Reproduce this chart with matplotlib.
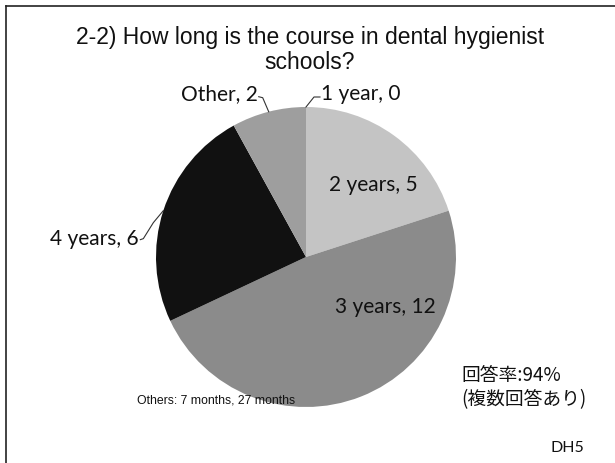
import numpy as np
import matplotlib
matplotlib.use('Agg')
import matplotlib.pyplot as plt
from matplotlib.lines import Line2D

# Data
labels = ['1 year', '2 years', '3 years', '4 years', 'Other']
values = [0, 5, 12, 6, 2]
colors = ['#d0d0d0', '#c4c4c4', '#8b8b8b', '#111111', '#9e9e9e']
title = '2-2) How long is the course in dental hygienist\nschools?'
note = 'Others: 7 months, 27 months'
rate = '回答率:94%\n(複数回答あり)'
code = 'DH5'

W, H = 615, 464
fig = plt.figure(figsize=(W / 100, H / 100), dpi=100)
ax = fig.add_axes([0, 0, 1, 1])

cx, cy, r = 306, H - 258, 150
wedges, _ = ax.pie(values, colors=colors, startangle=90, counterclock=False,
                   center=(cx, cy), radius=r, frame=True,
                   wedgeprops=dict(linewidth=0))
ax.set_xlim(0, W)
ax.set_ylim(0, H)
ax.set_aspect('equal')
ax.axis('off')

lab_font = dict(family=['Lato', 'DejaVu Sans'], fontsize=15, color='#111111')
line_kw = dict(color='#333333', lw=0.8)


def edge_point(w, frac=1.0):
    ang = np.deg2rad((w.theta1 + w.theta2) / 2)
    return cx + r * frac * np.cos(ang), cy + r * frac * np.sin(ang)


txt = [f'{l}, {v}' for l, v in zip(labels, values)]

# labels inside the slices
x, y = edge_point(wedges[1], 0.5)
ax.text(x + 23, y + 12, txt[1], ha='center', va='center', **lab_font)
x, y = edge_point(wedges[2], 0.5)
ax.text(x + 52, y + 21, txt[2], ha='center', va='center', **lab_font)

# outside labels with leader lines
x, y = edge_point(wedges[0])
ax.plot([x, x + 8, x + 14], [y, y + 10, y + 10], **line_kw)
ax.text(x + 15, y + 14, txt[0], ha='left', va='center', **lab_font)

x, y = edge_point(wedges[4])
ax.plot([x, x - 6, x - 10], [y, y + 14, y + 15], **line_kw)
ax.text(x - 11, y + 19, txt[4], ha='right', va='center', **lab_font)

x, y = edge_point(wedges[3])
ax.plot([x, x - 10, x - 20, x - 23], [y, y - 12, y - 28, y - 29], **line_kw)
ax.text(x - 25, y - 27, txt[3], ha='right', va='center', **lab_font)

fig.text(310 / W, 1 - 50 / H, title, ha='center', va='center', fontsize=16.5,
         family='Liberation Sans', color='#111111', linespacing=1.15)
fig.text(137 / W, 1 - 401 / H, note, ha='left', va='center', fontsize=8.8,
         family='Liberation Sans', color='#111111')
fig.text(461 / W, 1 - 388 / H, rate, ha='left', va='center', fontsize=13.5,
         family=['Noto Sans CJK JP', 'DejaVu Sans'], color='#111111', linespacing=1.2)
fig.text(550 / W, 1 - 448 / H, code, ha='left', va='center', fontsize=11.5,
         family=['Lato', 'DejaVu Sans'], color='#111111')

# frame lines on top and left
fig.add_artist(Line2D([6 / W, 6 / W], [0, 1 - 7 / H], color='#222222', lw=1.2))
fig.add_artist(Line2D([6 / W, 1], [1 - 7 / H, 1 - 7 / H], color='#222222', lw=1.2))

fig.savefig('out.png', dpi=100)
